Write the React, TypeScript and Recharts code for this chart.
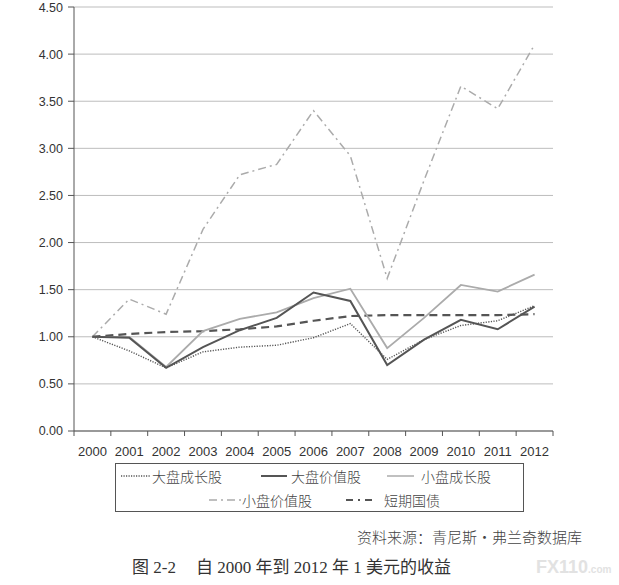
import React from 'react';
import { LineChart, Line, XAxis, YAxis, CartesianGrid } from 'recharts';

const years = ['2000', '2001', '2002', '2003', '2004', '2005', '2006', '2007', '2008', '2009', '2010', '2011', '2012'];
const largeGrowth = [1.0, 0.85, 0.67, 0.84, 0.89, 0.91, 0.99, 1.14, 0.76, 0.97, 1.12, 1.17, 1.33];
const largeValue = [1.0, 0.99, 0.67, 0.89, 1.07, 1.2, 1.47, 1.38, 0.7, 0.97, 1.18, 1.08, 1.32];
const smallGrowth = [1.0, 1.0, 0.68, 1.06, 1.19, 1.26, 1.41, 1.51, 0.88, 1.2, 1.55, 1.48, 1.66];
const smallValue = [1.0, 1.4, 1.24, 2.14, 2.72, 2.83, 3.4, 2.92, 1.62, 2.66, 3.66, 3.42, 4.1];
const tBills = [1.0, 1.03, 1.05, 1.06, 1.08, 1.11, 1.17, 1.22, 1.23, 1.23, 1.23, 1.23, 1.24];
const yTicks = [0, 0.5, 1, 1.5, 2, 2.5, 3, 3.5, 4, 4.5];
const seriesNames = ['大盘成长股', '大盘价值股', '小盘成长股', '小盘价值股', '短期国债'];

const rows = years.map((year, i) => ({
  year,
  lg: largeGrowth[i],
  lv: largeValue[i],
  sg: smallGrowth[i],
  sv: smallValue[i],
  tb: tBills[i],
}));

// plot box in page pixels
const PLOT_LEFT = 74;
const PLOT_RIGHT = 553;
const HALF_BAND = (PLOT_RIGHT - PLOT_LEFT) / years.length / 2;

const DARK = '#555';
const LIGHT = '#ababab';
const SANS = '"Liberation Sans", Arial, sans-serif';
const SERIF = '"Liberation Serif", serif';
const CJK = '"Noto Sans CJK SC", sans-serif';

const XTick = (props: any) => {
  const { x, y, payload, index } = props;
  const axisY = y - 16;
  return (
    <g>
      <line x1={x - HALF_BAND} y1={axisY} x2={x - HALF_BAND} y2={axisY + 5} stroke={DARK} />
      {index === years.length - 1 && (
        <line x1={x + HALF_BAND} y1={axisY} x2={x + HALF_BAND} y2={axisY + 5} stroke={DARK} />
      )}
      <text x={x} y={axisY + 25} textAnchor="middle" fontSize={13} fill="#333" fontFamily={SANS}>
        {payload.value}
      </text>
    </g>
  );
};

const Sample = ({ w, stroke, width, dash }: { w: number; stroke: string; width: number; dash?: string }) => (
  <svg width={w} height={10} style={{ display: 'block' }}>
    <line x1={0} y1={5} x2={w} y2={5} stroke={stroke} strokeWidth={width} strokeDasharray={dash} />
  </svg>
);

const legendItems = [
  { name: seriesNames[0], left: 5, top: 12, w: 30, gap: 1, stroke: DARK, width: 1.3, dash: '1.2 1.3' },
  { name: seriesNames[1], left: 145, top: 12, w: 26, gap: 4, stroke: DARK, width: 2 },
  { name: seriesNames[2], left: 271, top: 12, w: 27, gap: 7, stroke: LIGHT, width: 1.5 },
  { name: seriesNames[3], left: 93, top: 36, w: 32, gap: 1, stroke: LIGHT, width: 1.5, dash: '8 4 2 4' },
  { name: seriesNames[4], left: 230, top: 36, w: 30, gap: 8, stroke: DARK, width: 2, dash: '7 5 2 5' },
];

const num = { fontFamily: SERIF };

export default function App() {
  return (
    <div style={{ position: 'absolute', left: 0, top: 0, width: 619, height: 585, background: '#fff', overflow: 'hidden' }}>
      <LineChart width={619} height={462} data={rows} margin={{ top: 7, right: 619 - PLOT_RIGHT, bottom: 0, left: 0 }}>
        <CartesianGrid vertical={false} stroke="#bdbdbd" />
        <XAxis
          dataKey="year"
          interval={0}
          height={31}
          padding={{ left: HALF_BAND, right: HALF_BAND }}
          stroke={DARK}
          tickLine={false}
          tickSize={5}
          tickMargin={11}
          tick={<XTick />}
        />
        <YAxis
          width={PLOT_LEFT}
          domain={[0, 4.5]}
          ticks={yTicks}
          stroke={DARK}
          tickSize={6}
          tickMargin={5}
          tickFormatter={(v: number) => v.toFixed(2)}
          tick={{ fill: '#333', fontSize: 12.5, fontFamily: SANS }}
        />
        <Line dataKey="sv" stroke={LIGHT} strokeWidth={1.5} strokeDasharray="8 4 2 4" dot={false} isAnimationActive={false} />
        <Line dataKey="tb" stroke={DARK} strokeWidth={2.2} strokeDasharray="8 5" dot={false} isAnimationActive={false} />
        <Line dataKey="sg" stroke={LIGHT} strokeWidth={1.8} dot={false} isAnimationActive={false} />
        <Line dataKey="lv" stroke={DARK} strokeWidth={2} dot={false} isAnimationActive={false} />
        <Line dataKey="lg" stroke={DARK} strokeWidth={1.4} strokeDasharray="1.2 1.4" dot={false} isAnimationActive={false} />
      </LineChart>

      <div style={{ position: 'absolute', left: 115, top: 463, width: 407, height: 47, border: `1px solid ${DARK}` }}>
        {legendItems.map((it) => (
          <div
            key={it.name}
            style={{ position: 'absolute', left: it.left, top: it.top - 9, height: 18, display: 'flex', alignItems: 'center', gap: it.gap }}
          >
            <Sample w={it.w} stroke={it.stroke} width={it.width} dash={it.dash} />
            <span style={{ fontFamily: CJK, fontSize: 14, fontWeight: 300, color: '#444', lineHeight: '18px' }}>{it.name}</span>
          </div>
        ))}
      </div>

      <div style={{ position: 'absolute', left: 357, top: 527, fontFamily: CJK, fontSize: 15, fontWeight: 300, color: '#444', lineHeight: '20px', whiteSpace: 'nowrap' }}>
        资料来源：青尼斯·弗兰奇数据库
      </div>

      <div style={{ position: 'absolute', left: 132, top: 555, fontFamily: CJK, fontSize: 17, fontWeight: 400, color: '#333', lineHeight: '22px', whiteSpace: 'nowrap' }}>
        图<span style={num}> 2-2</span>
        <span style={{ marginLeft: 20 }}>自</span>
        <span style={num}> 2000 </span>年到
        <span style={num}> 2012 </span>年
        <span style={num}> 1 </span>美元的收益
      </div>

      <div style={{ position: 'absolute', left: 536, top: 556, fontFamily: SANS, fontWeight: 700, color: '#e2e2e2', lineHeight: '22px', whiteSpace: 'nowrap' }}>
        <span style={{ fontSize: 18 }}>FX110</span>
        <span style={{ fontSize: 10 }}>.com</span>
      </div>
    </div>
  );
}
